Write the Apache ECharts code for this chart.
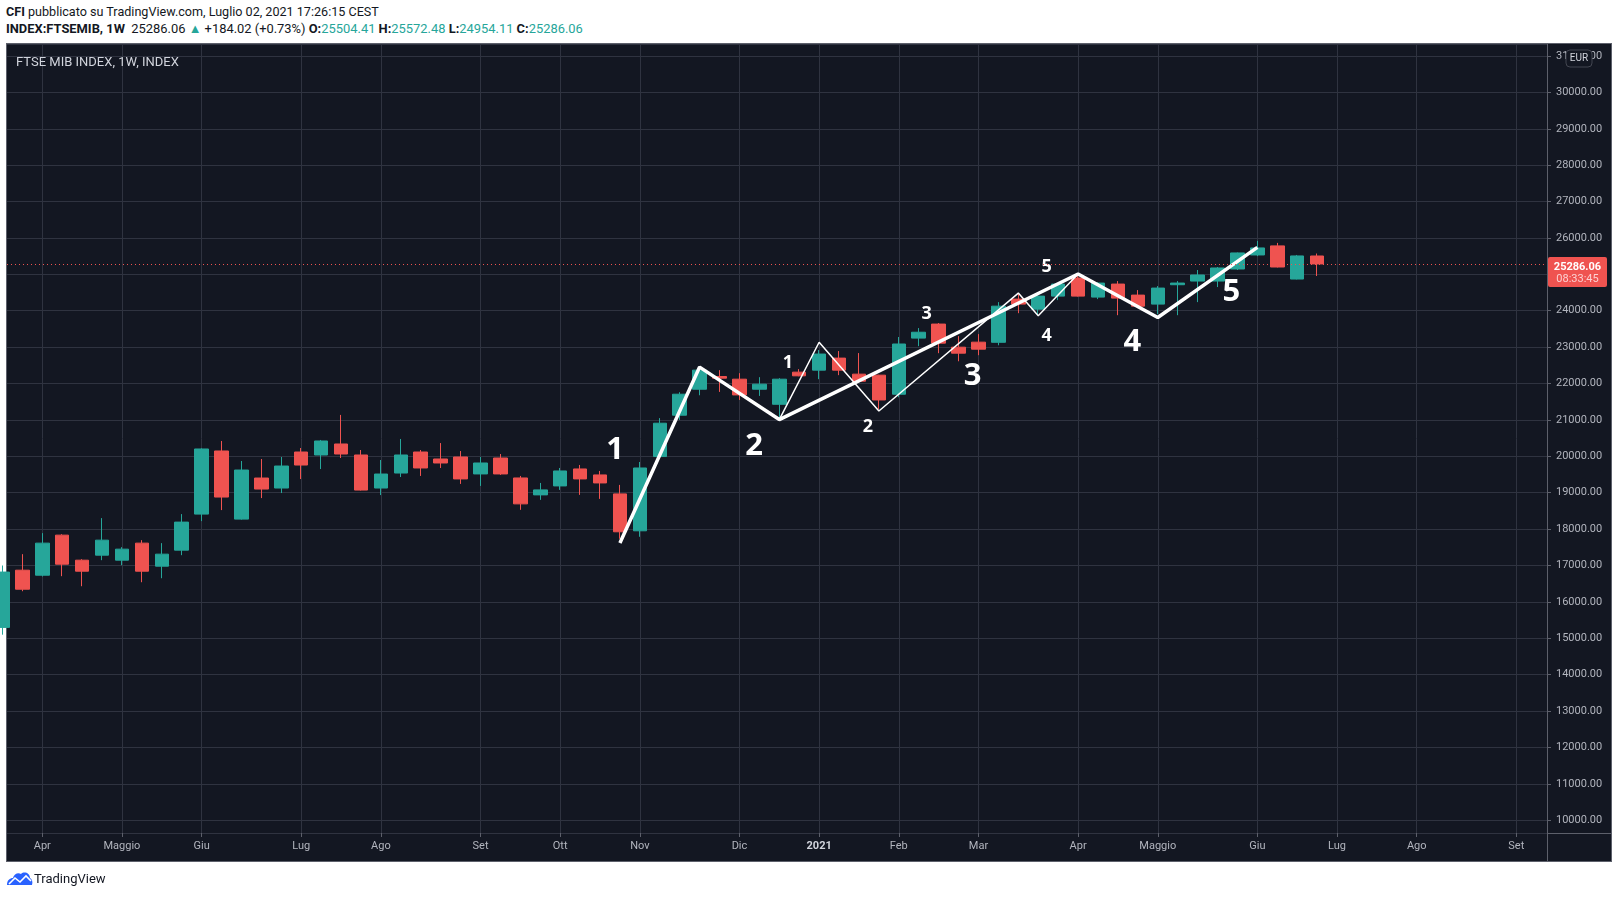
<!DOCTYPE html>
<html>
<head>
<meta charset="utf-8">
<title>FTSE MIB INDEX, 1W</title>
<script src="https://cdn.jsdelivr.net/npm/echarts@6/dist/echarts.min.js"></script>
<style>
    html, body { margin: 0; padding: 0; background: #fff; width: 1618px; height: 899px; overflow: hidden; font-family: Roboto, "Liberation Sans", sans-serif; }
    .hdr { position: absolute; left: 6px; color: #131722; white-space: nowrap; line-height: 16px; }
    #l1 { top: 4px; font-size: 12.6px; }
    #l2 { top: 21px; font-size: 12.9px; }
    .up { color: #26a69a; }
    #panel { position: absolute; left: 6px; top: 43px; width: 1606px; height: 819px; box-sizing: border-box; background: #131722; border: 1px solid #5d606b; }
    #vsep { position: absolute; left: 1547px; top: 43px; width: 1px; height: 819px; background: #5d606b; }
    #hsep { position: absolute; left: 6px; top: 833px; width: 1606px; height: 1px; background: #5d606b; }
    #chart { position: absolute; left: 0; top: 0; width: 1618px; height: 899px; }
    #foot { position: absolute; left: 6px; top: 870px; height: 18px; font-size: 13px; color: #131722; line-height: 18px; white-space: nowrap; }
    #foot svg { vertical-align: -3px; margin-right: 1px; }
</style>
</head>
<body>
<div class="hdr" id="l1"><b>CFI</b> pubblicato su TradingView.com, Luglio 02, 2021 17:26:15 CEST</div>
<div class="hdr" id="l2"><b>INDEX:FTSEMIB, 1W</b>&nbsp; 25286.06 <span class="up">▲</span> +184.02 (+0.73%) <b>O:</b><span class="up">25504.41</span> <b>H:</b><span class="up">25572.48</span> <b>L:</b><span class="up">24954.11</span> <b>C:</b><span class="up">25286.06</span></div>
<div id="panel"></div>
<div id="vsep"></div>
<div id="hsep"></div>
<div id="chart"></div>
<div id="foot"><svg width="27" height="16" viewBox="0 0 27 16"><path d="M1 15 C1 10 4 8 7 8 C8 4 12 2 15 4 C18 1 24 3 24 8 C26 9 27 12 26 15 Z" fill="#2962ff"/><polyline points="3,14 9,8 14,12 20,6 25,11" fill="none" stroke="#fff" stroke-width="1.6"/></svg>TradingView</div>

<script>
// settimane (lunedi) delle candele visibili
var weeks = [
    '2020-03-23', '2020-03-30', '2020-04-06', '2020-04-13', '2020-04-20', '2020-04-27',
    '2020-05-04', '2020-05-11', '2020-05-18', '2020-05-25', '2020-06-01', '2020-06-08',
    '2020-06-15', '2020-06-22', '2020-06-29', '2020-07-06', '2020-07-13', '2020-07-20',
    '2020-07-27', '2020-08-03', '2020-08-10', '2020-08-17', '2020-08-24', '2020-08-31',
    '2020-09-07', '2020-09-14', '2020-09-21', '2020-09-28', '2020-10-05', '2020-10-12',
    '2020-10-19', '2020-10-26', '2020-11-02', '2020-11-09', '2020-11-16', '2020-11-23',
    '2020-11-30', '2020-12-07', '2020-12-14', '2020-12-21', '2020-12-28', '2021-01-04',
    '2021-01-11', '2021-01-18', '2021-01-25', '2021-02-01', '2021-02-08', '2021-02-15',
    '2021-02-22', '2021-03-01', '2021-03-08', '2021-03-15', '2021-03-22', '2021-03-29',
    '2021-04-05', '2021-04-12', '2021-04-19', '2021-04-26', '2021-05-03', '2021-05-10',
    '2021-05-17', '2021-05-24', '2021-05-31', '2021-06-07', '2021-06-14', '2021-06-21',
    '2021-06-28'
];
var opens = [
    15300, 16872, 16734, 17835, 17147, 17284, 17147, 17615, 16982, 17422, 18413, 20147,
    18275, 19404, 19129, 20119, 20037, 20339, 20037, 19129, 19541, 20119, 19927, 19982,
    19516, 19954, 19406, 18941, 19187, 19653, 19489, 18968, 17954, 19994, 21130, 21844,
    22193, 22120, 21844, 21430, 22313, 22368, 22699, 22258, 22230, 21706, 23248, 23634,
    22999, 23137, 23133, 24320, 24044, 24402, 24899, 24375, 24733, 24430, 24182, 24715,
    24816, 24816, 25147, 25533, 25782, 24871, 25504.41
];
var closes = [
    16820, 16349, 17615, 17037, 16844, 17697, 17450, 16844, 17312, 18193, 20202, 18881,
    19624, 19101, 19734, 19761, 20422, 20064, 19073, 19514, 20037, 19680, 19817, 19379,
    19817, 19516, 18694, 19078, 19598, 19379, 19269, 17927, 19680, 20910, 21707, 22368,
    22147, 21687, 21982, 22120, 22212, 22810, 22368, 22064, 21549, 23086, 23410, 23110,
    22834, 22944, 24126, 24182, 24402, 24733, 24402, 24761, 24347, 24126, 24623, 24761,
    24982, 25175, 25588, 25726, 25202, 25506, 25286.06
];
var lows = [
    15100, 16294, 16700, 16707, 16431, 17147, 17009, 16541, 16651, 17284, 18220, 18523,
    18260, 18853, 18991, 19376, 19651, 19954, 19060, 18936, 19431, 19461, 19680, 19242,
    19187, 19489, 18530, 18804, 19078, 18941, 18831, 17735, 17790, 19960, 21000, 21678,
    21770, 21549, 21660, 21016, 22200, 22120, 22230, 22050, 21292, 21623, 23027, 22834,
    22612, 22779, 23051, 23933, 23900, 24292, 24390, 24320, 23878, 24120, 23906, 23878,
    24237, 24651, 25120, 25500, 25190, 24860, 24954.11
];
var highs = [
    17000, 17312, 17890, 17860, 17174, 18303, 17505, 17697, 17615, 18413, 20220, 20422,
    19872, 19927, 19982, 20229, 20450, 21138, 20174, 19899, 20477, 20174, 20365, 20146,
    19982, 20064, 19461, 19269, 19680, 19763, 19598, 19215, 19845, 21050, 21762, 22451,
    22368, 22285, 22175, 22147, 22396, 22920, 22892, 22837, 22240, 23279, 23524, 23662,
    23303, 23358, 24237, 24458, 24420, 24760, 24982, 24780, 24816, 24568, 24678, 24816,
    25120, 25202, 25600, 25920, 25864, 25533, 25572.48
];

// etichette mesi sull'asse x (indice settimana)
var monthTicks = [2, 6, 10, 15, 19, 24, 28, 32, 37, 41, 45, 49, 54, 58, 63, 67, 71, 76];
var monthLabels = ['Apr', 'Maggio', 'Giu', 'Lug', 'Ago', 'Set', 'Ott', 'Nov', 'Dic', '2021',
    'Feb', 'Mar', 'Apr', 'Maggio', 'Giu', 'Lug', 'Ago', 'Set'];

// onde di Elliott (indice settimana, prezzo)
var mainWaveX = [31, 35, 39, 54, 58, 63];
var mainWaveY = [17620, 22452, 21010, 25010, 23814, 25740];
var subWaveX = [39, 41, 44, 51, 52, 54];
var subWaveY = [21010, 23135, 21246, 24485, 23860, 25010];

var mainLabelText = ['1', '2', '3', '4', '5'];
var mainLabelX = [30.76, 37.73, 48.71, 56.72, 61.70];
var mainLabelY = [20165, 20275, 22215, 23129, 24502];
var subLabelText = ['1', '2', '3', '4', '5'];
var subLabelX = [39.43, 43.45, 46.40, 52.42, 52.42];
var subLabelY = [22580, 20823, 23917, 23313, 25199];

var lastClose = 25286.06;
var lastTimer = '08:33:45';

var xMin = 0.23, xMax = 77.54;
var yMin = 9651, yMax = 31329;

var UP = '#26a69a', DOWN = '#ef5350';
var FONT = 'Roboto, "Liberation Sans", sans-serif';

function zip(xs, ys) {
    return xs.map(function (x, i) { return [x, ys[i]]; });
}

var candleData = weeks.map(function (w, i) {
    return [i, opens[i], closes[i], lows[i], highs[i]];
});

var waveLabel = function (size) {
    return {
        show: true, position: 'inside', formatter: '{b}',
        color: '#ffffff', textBorderWidth: 0, opacity: 1,
        fontSize: size, fontWeight: 'bold', fontFamily: '"Open Sans", sans-serif'
    };
};

var chart = echarts.init(document.getElementById('chart'));

var option = {
    animation: false,
    backgroundColor: 'transparent',
    title: {
        text: 'FTSE MIB INDEX, 1W, INDEX',
        left: 11,
        top: 51,
        textStyle: { color: '#d1d4dc', fontSize: 13, fontWeight: 'normal', fontFamily: FONT }
    },
    grid: { left: 7, right: 71, top: 44, bottom: 66 },
    xAxis: {
        type: 'value',
        min: xMin,
        max: xMax,
        axisLine: { show: false },
        axisTick: { show: true, customValues: monthTicks, length: 4, lineStyle: { color: '#5d606b' } },
        axisLabel: {
            customValues: monthTicks,
            color: '#b2b5be',
            fontSize: 11,
            fontFamily: FONT,
            margin: 8,
            formatter: function (v) {
                var t = monthLabels[monthTicks.indexOf(v)] || '';
                return t === '2021' ? '{y|2021}' : t;
            },
            rich: { y: { fontWeight: 'bold', color: '#d1d4dc', fontSize: 11, fontFamily: FONT } }
        },
        splitLine: { show: true, lineStyle: { color: '#2f3340' } }
    },
    yAxis: {
        type: 'value',
        position: 'right',
        min: yMin,
        max: yMax,
        splitNumber: 21,
        axisLine: { show: false },
        axisTick: { show: true, length: 4, lineStyle: { color: '#5d606b' } },
        axisLabel: {
            color: '#b2b5be',
            fontSize: 11,
            fontFamily: FONT,
            margin: 9,
            showMinLabel: false,
            showMaxLabel: false,
            formatter: function (v) { return v.toFixed(2); }
        },
        splitLine: { show: true, lineStyle: { color: '#2f3340' } }
    },
    series: [
        {
            type: 'candlestick',
            data: candleData,
            barWidth: 14,
            itemStyle: {
                color: UP, color0: DOWN,
                borderColor: UP, borderColor0: DOWN,
                borderWidth: 1
            },
            markLine: {
                silent: true,
                symbol: ['none', 'none'],
                label: { show: false },
                lineStyle: { color: DOWN, type: [1, 3], width: 1 },
                data: [{ yAxis: lastClose }]
            }
        },
        {
            type: 'line',
            data: zip(subWaveX, subWaveY),
            symbol: 'none',
            silent: true,
            lineStyle: { color: '#ffffff', width: 1.5 }
        },
        {
            type: 'line',
            data: zip(mainWaveX, mainWaveY),
            symbol: 'none',
            silent: true,
            lineStyle: { color: '#ffffff', width: 3.5 }
        },
        {
            type: 'scatter',
            symbolSize: 0,
            silent: true,
            itemStyle: { opacity: 1, color: '#ffffff' },
            data: mainLabelText.map(function (t, i) { return { value: [mainLabelX[i], mainLabelY[i]], name: t }; }),
            label: waveLabel(31)
        },
        {
            type: 'scatter',
            symbolSize: 0,
            silent: true,
            itemStyle: { opacity: 1, color: '#ffffff' },
            data: subLabelText.map(function (t, i) { return { value: [subLabelX[i], subLabelY[i]], name: t }; }),
            label: waveLabel(18)
        }
    ]
};
chart.setOption(option);

// etichetta ultimo prezzo e box valuta
var py = chart.convertToPixel({ yAxisIndex: 0 }, lastClose);
chart.setOption({
    graphic: [
        {
            type: 'rect', z: 100,
            shape: { x: 1548, y: py - 7, width: 59, height: 30, r: 2 },
            style: { fill: DOWN }
        },
        {
            type: 'text', z: 101,
            style: { x: 1577.5, y: py + 3, text: lastClose.toFixed(2), fill: '#ffffff', font: 'bold 11px ' + FONT, align: 'center', verticalAlign: 'middle' }
        },
        {
            type: 'text', z: 101,
            style: { x: 1577.5, y: py + 15, text: lastTimer, fill: '#fcd0d1', font: '11px ' + FONT, align: 'center', verticalAlign: 'middle' }
        },
        {
            type: 'rect', z: 100,
            shape: { x: 1566, y: 50, width: 26, height: 17, r: 4 },
            style: { fill: '#131722', stroke: '#434651', lineWidth: 1 }
        },
        {
            type: 'text', z: 101,
            style: { x: 1579, y: 58.5, text: 'EUR', fill: '#d1d4dc', font: '10px ' + FONT, align: 'center', verticalAlign: 'middle' }
        }
    ]
});
</script>
</body>
</html>
